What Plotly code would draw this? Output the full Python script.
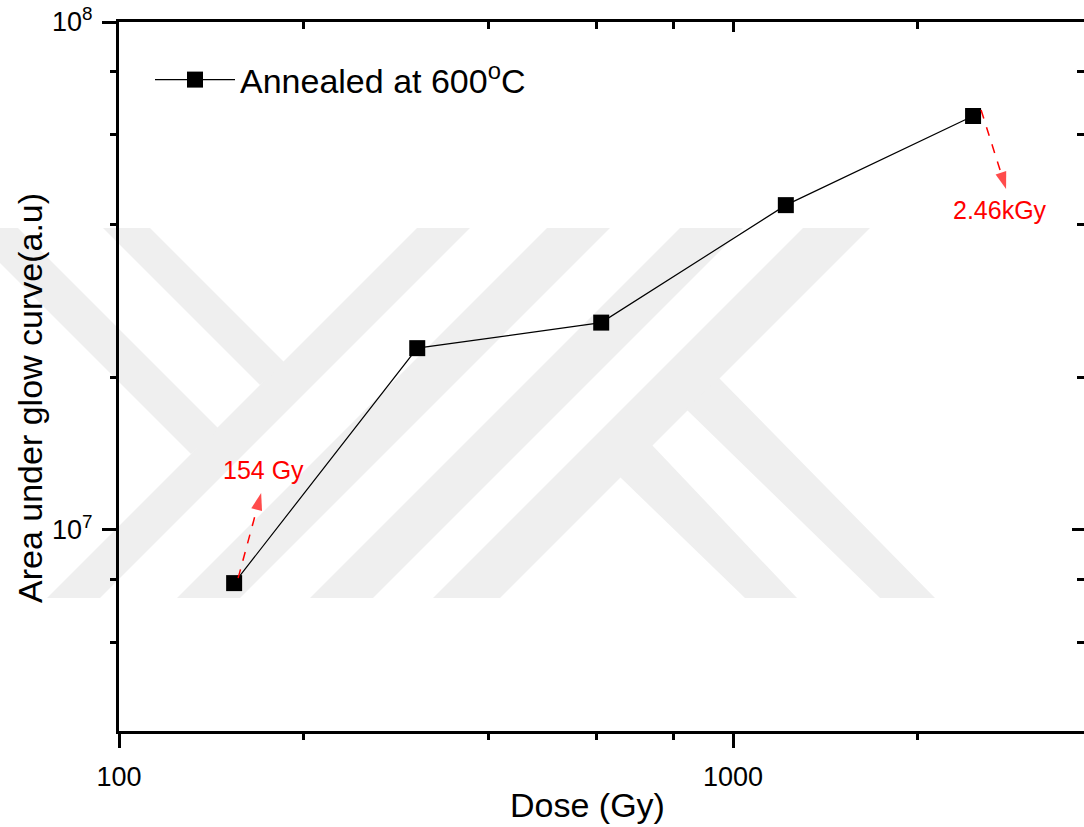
import math
import plotly.graph_objects as go

# ---------------- data ----------------
dose_gy = [154, 306, 610, 1219, 2460]
area_au = [7.86e6, 2.28e7, 2.56e7, 4.36e7, 6.53e7]
series_name = "Annealed at 600<sup>o</sup>C"

x_major = [100, 1000]
x_major_text = ["100", "1000"]
x_minor = [200, 400, 600, 800, 2000]
y_major = [1e7, 1e8]
y_major_text = ["10<sup>7</sup>", "10<sup>8</sup>"]
y_minor = [6e6, 8e6, 2e7, 4e7, 6e7, 8e7]

x_title = "Dose (Gy)"
y_title = "Area under glow curve(a.u)"

label_idx = [0, 4]
label_text = ["154 Gy", "2.46kGy"]

# ---------------- layout constants ----------------
W, H = 1084, 827
ML, MR, MT, MB = 119, 0, 22, 96
X_RANGE = [2, 3.5716]
Y_RANGE = [6.6043, 8]
FONT = "Liberation Sans, Arial, sans-serif"
RED = "#ff0000"

pw = W - ML - MR
ph = H - MT - MB
XS = pw / (X_RANGE[1] - X_RANGE[0])   # px per decade
YS = ph / (Y_RANGE[1] - Y_RANGE[0])


def px(xp, yp):
    return (xp - ML) / pw, (H - MB - yp) / ph


def offset(xd, yd, dx, dy_up):
    """data point shifted by a pixel offset (right, up)"""
    return 10 ** (math.log10(xd) + dx / XS), 10 ** (math.log10(yd) + dy_up / YS)


fig = go.Figure()

# ---------------- watermark (background decoration) ----------------
bands = [
    [(47, 598), (100, 598), (470, 228), (417, 228)],
    [(177, 598), (240, 598), (610, 228), (547, 228)],
    [(310, 598), (373, 598), (743, 228), (680, 228)],
    [(433, 598), (500, 598), (870, 228), (803, 228)],
    [(719, 378), (935, 598), (880, 598), (686, 409)],
    [(652, 445), (797, 598), (745, 598), (620, 477)],
    [(103, 228), (150, 228), (285, 363), (260, 385)],
    [(-35, 228), (18, 228), (219, 429), (191, 454)],
]
for poly in bands:
    pts = [px(a, b) for a, b in poly]
    path = "M " + " L ".join(f"{u:.5f},{v:.5f}" for u, v in pts) + " Z"
    fig.add_shape(type="path", path=path, xref="paper", yref="paper",
                  fillcolor="#efefef", line=dict(width=0), layer="below")

# ---------------- main series ----------------
fig.add_trace(go.Scatter(
    x=dose_gy, y=area_au, name=series_name, mode="lines+markers",
    line=dict(color="black", width=1.2),
    marker=dict(symbol="square", size=16, color="black"),
))
# invisible trace for mirrored axes
fig.add_trace(go.Scatter(
    x=dose_gy, y=area_au, xaxis="x2", yaxis="y2", mode="markers",
    marker=dict(opacity=0), showlegend=False, hoverinfo="skip",
))

# ---------------- labels with dashed arrows ----------------
# pixel offsets (right, up) relative to the data point: tail, tip, label centre
arrow_px = [
    dict(tail=(4, 5), tip=(27, 90), label=(29, 113)),
    dict(tail=(8, 6), tip=(33, -73), label=(27, -94)),
]
for i, txt, a in zip(label_idx, label_text, arrow_px):
    xd, yd = dose_gy[i], area_au[i]
    t = offset(xd, yd, *a["tail"])
    h = offset(xd, yd, *a["tip"])
    fig.add_trace(go.Scatter(
        x=[t[0], h[0]], y=[t[1], h[1]], mode="lines+markers",
        line=dict(color=RED, width=1.5, dash="dash"),
        marker=dict(symbol=["circle", "arrow"], size=[0, 18], color=RED,
                    angleref="previous", line=dict(width=0)),
        showlegend=False, hoverinfo="skip"))
    lx, ly = a["label"]
    fig.add_annotation(x=math.log10(xd), y=math.log10(yd), xref="x", yref="y",
                       xshift=lx, yshift=ly, text=txt, showarrow=False,
                       font=dict(family=FONT, size=25, color=RED))

# ---------------- axis titles ----------------
fig.add_annotation(x=(587 - ML) / pw, y=(H - MB - 805) / ph, xref="paper", yref="paper",
                   text=x_title, showarrow=False, xanchor="center", yanchor="middle",
                   font=dict(family=FONT, size=34, color="black"))
fig.add_annotation(x=(30 - ML) / pw, y=(H - MB - 398) / ph, xref="paper", yref="paper",
                   text=y_title, showarrow=False, textangle=-90,
                   xanchor="center", yanchor="middle",
                   font=dict(family=FONT, size=34, color="black"))

axis_common = dict(type="log", showgrid=False, zeroline=False,
                   linecolor="black", tickcolor="black", tickwidth=2.5)

fig.update_layout(
    width=W, height=H, autosize=False,
    margin=dict(l=ML, r=MR, t=MT, b=MB, pad=0),
    paper_bgcolor="white", plot_bgcolor="rgba(0,0,0,0)",
    font=dict(family=FONT, color="black"),
    xaxis=dict(**axis_common, range=X_RANGE, showline=True, linewidth=3,
               ticks="outside", ticklen=14, tickvals=x_major, ticktext=x_major_text,
               tickfont=dict(size=27), ticklabelstandoff=6,
               minor=dict(tickvals=x_minor, ticks="outside", ticklen=6,
                          tickwidth=2.5, tickcolor="black", showgrid=False)),
    yaxis=dict(**axis_common, range=Y_RANGE, showline=True, linewidth=3,
               ticks="outside", ticklen=14, tickvals=y_major, ticktext=y_major_text,
               tickfont=dict(size=27), ticklabelstandoff=4,
               minor=dict(tickvals=y_minor, ticks="outside", ticklen=6,
                          tickwidth=2.5, tickcolor="black", showgrid=False)),
    xaxis2=dict(**axis_common, range=X_RANGE, overlaying="x", side="top", anchor="y",
                showline=True, linewidth=3, ticks="inside", ticklen=10,
                tickvals=x_major, showticklabels=False,
                minor=dict(tickvals=x_minor, ticks="inside", ticklen=7,
                           tickwidth=2.5, tickcolor="black", showgrid=False)),
    yaxis2=dict(**axis_common, range=Y_RANGE, overlaying="y", side="right", anchor="x",
                showline=False, ticks="inside", ticklen=12,
                tickvals=y_major, showticklabels=False,
                minor=dict(tickvals=y_minor, ticks="inside", ticklen=7,
                           tickwidth=2.5, tickcolor="black", showgrid=False)),
    showlegend=True,
    legend=dict(x=(150 - ML) / pw, y=(H - MB - 80) / ph, xanchor="left", yanchor="middle",
                bgcolor="rgba(0,0,0,0)", borderwidth=0, itemwidth=80,
                font=dict(size=34)),
)

fig.write_html("out.html")
